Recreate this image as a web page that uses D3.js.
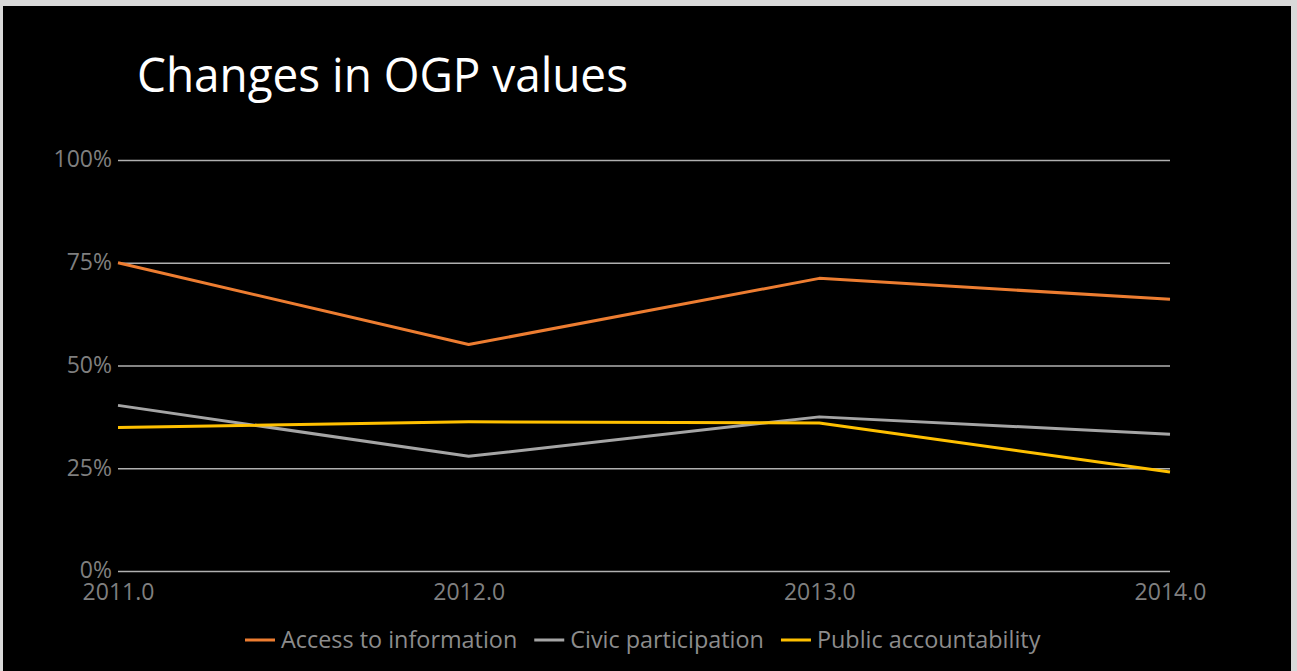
<!DOCTYPE html>
<html>
<head>
<meta charset="utf-8">
<script src="https://cdn.jsdelivr.net/npm/d3@7"></script>
<style>
  html, body { margin: 0; padding: 0; background: #d9d9d9; }
  svg { display: block; }
  text { font-family: "Open Sans", sans-serif; }
</style>
</head>
<body>
<svg id="chart" width="1297" height="671"></svg>
<script>
const years = [2011, 2012, 2013, 2014]
const access = [0.75, 0.551, 0.712, 0.661]
const civic = [0.403, 0.279, 0.375, 0.333]
const publicAcc = [0.349, 0.363, 0.360, 0.241]
const yTicks = [0, 0.25, 0.5, 0.75, 1]
const seriesNames = ['Access to information', 'Civic participation', 'Public accountability']
const seriesColors = ['#ed7d31', '#a5a5a5', '#ffc000']

const series = [access, civic, publicAcc].map((values, i) => ({
  name: seriesNames[i],
  color: seriesColors[i],
  values: values.map((v, j) => ({ year: years[j], value: v }))
}))

const svg = d3.select('#chart')
const width = 1297
const height = 671

// black panel with light frame
svg.append('rect')
  .attr('x', 3).attr('y', 6)
  .attr('width', 1288).attr('height', height - 6)
  .attr('fill', '#000')

const margin = { left: 118, right: 127, top: 160, bottom: 100 }
const x = d3.scaleLinear()
  .domain([years[0], years[years.length - 1]])
  .range([margin.left, width - margin.right])
const y = d3.scaleLinear()
  .domain([0, 1])
  .range([height - margin.bottom, margin.top])

svg.append('text')
  .attr('x', 137).attr('y', 92)
  .attr('fill', '#fff')
  .attr('font-size', 48)
  .attr('textLength', 491)
  .attr('lengthAdjust', 'spacingAndGlyphs')
  .text('Changes in OGP values')

// grid
svg.append('g')
  .attr('transform', `translate(${margin.left},0)`)
  .call(d3.axisLeft(y).tickValues(yTicks).tickSize(-(x.range()[1] - x.range()[0])).tickFormat(d3.format('.0%')).tickPadding(6))
  .call((g) => g.select('.domain').remove())
  .call((g) => g.selectAll('line').attr('stroke', '#b0b0b0').attr('stroke-width', 1.5))
  .call((g) => g.selectAll('text')
    .attr('fill', '#7f7f7f')
    .attr('font-size', 23)
    .attr('font-family', '"Open Sans", sans-serif')
    .attr('dy', '0.3em'))

// x axis labels
svg.append('g')
  .attr('transform', `translate(0,${y(0)})`)
  .call(d3.axisBottom(x).tickValues(years).tickSize(0).tickFormat(d3.format('.1f')).tickPadding(13))
  .call((g) => g.select('.domain').remove())
  .call((g) => g.selectAll('text')
    .attr('fill', '#7f7f7f')
    .attr('font-size', 23)
    .attr('font-family', '"Open Sans", sans-serif'))

const line = d3.line()
  .x((d) => x(d.year))
  .y((d) => y(d.value))

svg.append('g')
  .selectAll('path')
  .data(series)
  .join('path')
  .attr('fill', 'none')
  .attr('stroke', (d) => d.color)
  .attr('stroke-width', 3)
  .attr('stroke-linejoin', 'round')
  .attr('d', (d) => line(d.values))

// legend
const legend = svg.append('g').attr('transform', 'translate(245,640)')
let lx = 0
series.forEach((s) => {
  const item = legend.append('g').attr('transform', `translate(${lx},0)`)
  item.append('line')
    .attr('x1', 0).attr('x2', 30)
    .attr('stroke', s.color).attr('stroke-width', 3)
  const t = item.append('text')
    .attr('x', 36).attr('dy', '0.35em')
    .attr('fill', '#8c8c8c')
    .attr('font-size', 23.4)
    .text(s.name)
  lx += 36 + t.node().getComputedTextLength() + 17
})
</script>
</body>
</html>
